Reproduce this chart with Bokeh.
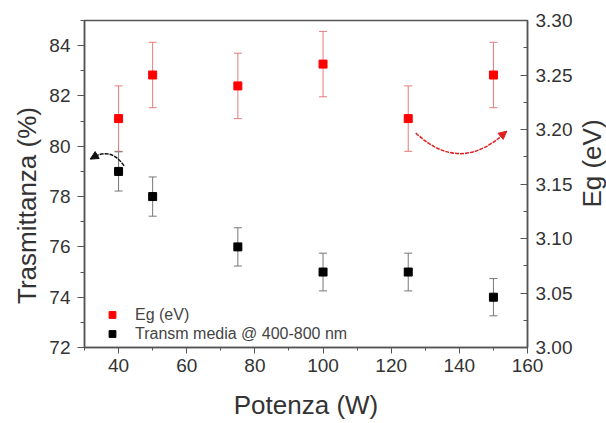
import numpy as np
from bokeh.plotting import figure
from bokeh.models import (Range1d, LinearAxis, SingleIntervalTicker, Whisker, TeeHead,
                          ColumnDataSource, Legend, LegendItem, Arrow, NormalHead,
                          PrintfTickFormatter, Label)
from bokeh.embed import file_html
from bokeh.resources import INLINE

# ---- data ----
power = [40, 50, 75, 100, 125, 150]
eg = [3.21, 3.25, 3.24, 3.26, 3.21, 3.25]
eg_err = [0.03, 0.03, 0.03, 0.03, 0.03, 0.03]
trans = [79, 78, 76, 75, 75, 74]
trans_err = [0.78, 0.78, 0.76, 0.75, 0.75, 0.74]

x_label = "Potenza (W)"
y_label = "Trasmittanza (%)"
y2_label = "Eg (eV)"
legend_labels = ["Eg (eV)", "Transm media @ 400-800 nm"]

# annotation arrows (x, y in left-axis units): start, control, end
black_arrow = [(41.6, 79.22), (37.55, 80.03), (31.7, 79.49)]
red_arrow = [(127.2, 80.53), (140.45, 78.85), (153.9, 80.6)]

FONT = "Liberation Sans"
AX = "#555555"
TXT = "#333333"

p = figure(width=606, height=423, output_backend="svg", toolbar_location=None,
           x_range=Range1d(30, 160), y_range=Range1d(72, 85),
           min_border_left=84, min_border_right=79, min_border_top=20, min_border_bottom=76)
p.extra_y_ranges = {"eg": Range1d(3.0, 3.3000001)}
p.grid.visible = False
p.outline_line_color = AX
p.outline_line_width = 1.5
p.background_fill_color = "white"
p.border_fill_color = "white"

# bottom axis
xa = p.xaxis[0]
xa.ticker = SingleIntervalTicker(interval=20, num_minor_ticks=2)
xa.axis_label = x_label
xa.axis_label_text_font = FONT
xa.axis_label_text_font_size = "26px"
xa.axis_label_text_font_style = "normal"
xa.axis_label_text_color = TXT
xa.axis_label_standoff = 15
xa.major_label_text_font = FONT
xa.major_label_text_font_size = "19px"
xa.major_label_text_color = TXT
xa.major_label_standoff = 5
xa.major_tick_out = 6
xa.major_tick_in = 0
xa.minor_tick_out = 3
xa.minor_tick_in = 0
xa.axis_line_color = AX
xa.axis_line_width = 1.5
xa.major_tick_line_color = AX
xa.minor_tick_line_color = AX

# left axis
ya = p.yaxis[0]
ya.ticker = SingleIntervalTicker(interval=2, num_minor_ticks=2)
ya.major_label_text_font = FONT
ya.major_label_text_font_size = "19px"
ya.major_label_text_color = TXT
ya.major_label_standoff = 7
ya.major_tick_out = 7
ya.major_tick_in = 0
ya.minor_tick_out = 4
ya.minor_tick_in = 0
ya.axis_line_color = AX
ya.axis_line_width = 1.5
ya.major_tick_line_color = AX
ya.minor_tick_line_color = AX

# right axis
ra = LinearAxis(y_range_name="eg",
                ticker=SingleIntervalTicker(interval=0.05, num_minor_ticks=2),
                formatter=PrintfTickFormatter(format="%.2f"))
ra.major_label_text_font = FONT
ra.major_label_text_font_size = "19px"
ra.major_label_text_color = TXT
ra.major_label_standoff = 8
ra.major_tick_out = 0
ra.major_tick_in = 7
ra.minor_tick_out = 0
ra.minor_tick_in = 4
ra.axis_line_color = AX
ra.axis_line_width = 1.5
ra.major_tick_line_color = AX
ra.minor_tick_line_color = AX
p.add_layout(ra, "right")

# vertical axis titles as labels in the side panels
p.add_layout(Label(x=10, y=142, x_units="screen", y_units="screen", text=y_label,
                   angle=np.pi / 2, text_align="center", text_baseline="middle",
                   text_font=FONT, text_font_size="26px", text_color=TXT), "left")
p.add_layout(Label(x=16, y=184, x_units="screen", y_units="screen", text=y2_label,
                   angle=np.pi / 2, text_align="center", text_baseline="middle",
                   text_font=FONT, text_font_size="26px", text_color=TXT), "right")

# data sources
src_eg = ColumnDataSource(dict(x=power, y=eg,
                               lo=[v - e for v, e in zip(eg, eg_err)],
                               hi=[v + e for v, e in zip(eg, eg_err)]))
src_tr = ColumnDataSource(dict(x=power, y=trans,
                               lo=[v - e for v, e in zip(trans, trans_err)],
                               hi=[v + e for v, e in zip(trans, trans_err)]))

w_eg = Whisker(source=src_eg, base="x", lower="lo", upper="hi", y_range_name="eg",
               line_color="#e57a7a", line_width=1,
               upper_head=TeeHead(size=8, line_color="#e57a7a"),
               lower_head=TeeHead(size=8, line_color="#e57a7a"))
w_tr = Whisker(source=src_tr, base="x", lower="lo", upper="hi",
               line_color="#777777", line_width=1,
               upper_head=TeeHead(size=8, line_color="#777777"),
               lower_head=TeeHead(size=8, line_color="#777777"))
p.add_layout(w_eg)
p.add_layout(w_tr)

r_eg = p.scatter("x", "y", source=src_eg, y_range_name="eg", marker="square", size=8,
                 fill_color="#ff0000", line_color="#ff0000")
r_tr = p.scatter("x", "y", source=src_tr, marker="square", size=8,
                 fill_color="#000000", line_color="#000000")

# curved arrows
def add_curve(pts, color):
    (x0, y0), (cx, cy), (x1, y1) = pts
    p.quadratic(x0=[x0], y0=[y0], x1=[x1], y1=[y1], cx=[cx], cy=[cy],
                line_color=color, line_width=1.5, line_dash="4 1")
    t = 0.88
    bx = (1 - t) ** 2 * x0 + 2 * t * (1 - t) * cx + t ** 2 * x1
    by = (1 - t) ** 2 * y0 + 2 * t * (1 - t) * cy + t ** 2 * y1
    p.add_layout(Arrow(end=NormalHead(size=8, fill_color=color, line_color=color),
                       x_start=bx, y_start=by, x_end=x1, y_end=y1, line_alpha=0))

add_curve(black_arrow, "#111111")
add_curve(red_arrow, "#e02020")

legend = Legend(items=[LegendItem(label=legend_labels[0], renderers=[r_eg]),
                       LegendItem(label=legend_labels[1], renderers=[r_tr])],
                location=(18, 4), padding=0, margin=0, spacing=0,
                glyph_width=20, glyph_height=17, label_height=19, label_standoff=13,
                label_text_font=FONT, label_text_font_size="16px", label_text_color="#444444",
                background_fill_alpha=0, border_line_alpha=0)
p.add_layout(legend)

open("out.html", "w").write(file_html(p, INLINE))
